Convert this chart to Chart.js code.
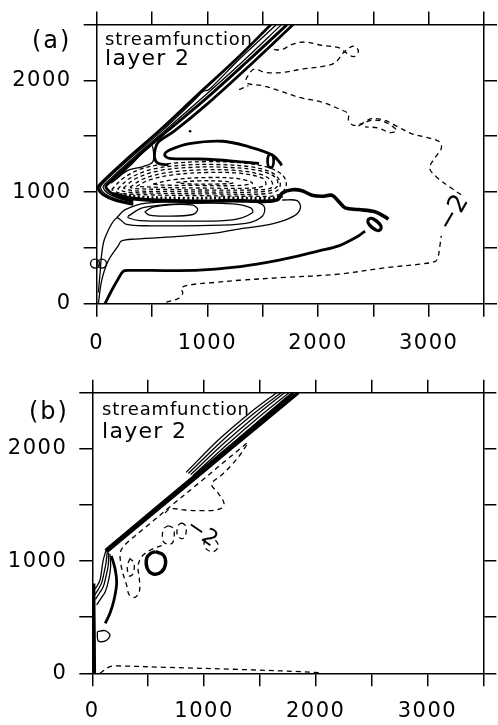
<!DOCTYPE html>
<html>
<head>
<meta charset="utf-8">
<script src="https://cdn.jsdelivr.net/npm/chart.js@4/dist/chart.umd.min.js"></script>
<style>
  html, body { margin: 0; padding: 0; background: #fff; }
  body { width: 498px; height: 725px; position: relative; overflow: hidden; }
  canvas { position: absolute; left: 0; }
  #panelA { top: 0; }
  #panelB { top: 362px; }
</style>
</head>
<body>
<canvas id="panelA" width="498" height="362"></canvas>
<canvas id="panelB" width="498" height="363"></canvas>
<script>
// axis labels
const xTickLabels = ['0', '1000', '2000', '3000'];
const yTickLabels = ['0', '1000', '2000'];

// ---- layer 2 streamfunction, panel (a) ----
const aBundle1 = [[330,890],[170,925],[60,975],[15,1030],[30,1070],[300,1320],[560,1545],[900,1860],[1250,2180],[1575,2500]];
const aBundle2 = [[330,900],[180,935],[75,985],[35,1035],[50,1072],[320,1318],[590,1548],[900,1840],[960,1900],[1010,1915],[1060,1960],[1300,2200],[1625,2500]];
const aBundle3 = [[330,910],[190,945],[95,995],[58,1040],[70,1068],[340,1315],[610,1545],[950,1840],[1320,2170],[1670,2500]];
const aBundle4 = [[330,920],[200,955],[115,1005],[82,1045],[95,1068],[360,1310],[630,1540],[980,1830],[1350,2160],[1720,2500]];
const aBundle5 = [[1775,2500],[1400,2150],[1000,1790],[700,1545],[560,1450],[530,1390],[525,1300],[560,1255],[650,1245]];
const aLens = [[130,1080],[300,1235],[490,1420],[512,1370],[506,1270],[420,1228],[281,1195],[170,1110],[130,1080]];

const aZeroUpper = [[140,985],[329,941],[629,923],[928,917],[1228,923],[1527,917],[1640,935],[1677,991],[1766,1021],[1856,1012],[1946,971],[2036,962],[2126,971],[2186,917],[2246,858],[2365,843],[2515,823],[2620,769],[2635,755]];
const aZeroLower = [[2425,651],[2365,607],[2186,518],[2007,473],[1827,429],[1527,369],[1228,325],[928,300],[629,297],[284,298],[239,289],[194,222],[135,118],[75,0]];
const aZeroLoop = [[1467,1256],[1228,1278],[928,1296],[659,1302],[614,1332],[659,1376],[838,1434],[1138,1455],[1377,1405],[1587,1331],[1662,1256],[1670,1237]];
const aBandDots = [[170,985],[400,955],[800,945],[1200,948],[1550,943],[1680,962]];

const aNeg1 = [[135,1021],[240,1124],[419,1213],[689,1258],[988,1272],[1287,1263],[1527,1228],[1677,1154],[1713,1065],[1647,976],[1407,963],[928,968],[479,975],[210,990],[135,1021]];
const aNeg1b = [[188,1028],[300,1124],[494,1203],[779,1240],[1078,1247],[1377,1228],[1572,1180],[1655,1100],[1640,1020],[1527,985],[1078,983],[554,990],[270,1000],[188,1028]];
const aNeg2 = [[240,1036],[359,1124],[569,1192],[868,1222],[1168,1222],[1467,1192],[1617,1130],[1632,1050],[1527,1006],[1078,1000],[629,1006],[329,1012],[240,1036]];
const aNeg2b = [[300,1043],[419,1117],[629,1173],[928,1198],[1228,1196],[1482,1158],[1580,1098],[1580,1040],[1467,1021],[1033,1018],[599,1024],[344,1031],[300,1043]];
const aNeg3 = [[359,1050],[479,1110],[689,1154],[988,1175],[1287,1169],[1497,1124],[1527,1065],[1407,1036],[988,1036],[569,1042],[359,1050]];
const aNeg4 = [[509,1071],[689,1110],[988,1130],[1287,1119],[1407,1080],[1287,1059],[928,1059],[629,1062],[509,1071]];
const aNeg5 = [[719,1086],[928,1101],[1168,1095],[1228,1080],[1048,1071],[808,1074],[719,1086]];

const aPos1 = [[434,823],[509,864],[689,888],[868,882],[913,843],[868,799],[629,784],[479,793],[434,823]];
const aPos2 = [[284,784],[419,860],[778,895],[1228,895],[1392,858],[1407,814],[1228,750],[778,740],[389,745],[284,770],[284,784]];
const aPos3 = [[15,100],[30,266],[45,444],[75,591],[180,768],[269,710],[479,698],[928,700],[1347,720],[1497,784],[1512,873],[1407,915],[928,912],[449,900],[254,840],[180,768]];
const aPos4 = [[1677,929],[1811,923],[1841,858],[1781,784],[1587,716],[1228,660],[1063,632],[778,605],[344,579],[224,562],[194,518],[104,384],[45,207],[15,0]];

const aMinus2Lower = [[629,15],[734,44],[778,95],[763,142],[868,172],[1063,190],[1287,210],[1700,235],[2186,265],[2635,325],[2934,355],[3060,380],[3084,414],[3099,503],[3114,607]];
const aMinus2Upper = [[3293,976],[3204,1036],[3084,1124],[3009,1213],[3054,1302],[3114,1391],[3099,1450],[2964,1494],[2844,1524],[2725,1583],[2605,1642],[2485,1657],[2395,1613],[2320,1598],[2275,1642],[2275,1701],[2186,1746],[2036,1805],[1826,1849],[1647,1909],[1497,1953],[1377,1968],[1347,1997],[1377,2057],[1422,2101],[1527,2071],[1677,2071],[1856,2101],[2066,2130],[2156,2160],[2231,2249],[2320,2308],[2365,2264],[2320,2213],[2231,2264],[2186,2293],[2036,2314],[1886,2344],[1766,2323],[1677,2278],[1602,2278],[1587,2314],[1632,2361]];
const aMinus2Inner = [[2365,1592],[2485,1642],[2605,1627],[2710,1553],[2650,1533],[2545,1574],[2425,1583]];
const aMinus2Stub = [[1287,1917],[1371,1953]];

const aRings = [[-15,359],[48,359]];
const aSpeck = [[844,1545]];

// ---- layer 2 streamfunction, panel (b) ----
const bWall = [[18,0],[16,300],[13,600],[12,800]];
const bBundle1 = [[128,1084],[700,1555],[1262,2020],[1844,2500]];
const bBundle2 = [[118,1095],[690,1570],[1250,2035],[1800,2500]];
const bBundle3 = [[900,1760],[1220,2050],[1500,2290],[1760,2500]];
const bBundle4 = [[880,1770],[1190,2060],[1470,2300],[1720,2500]];
const bBundle5 = [[860,1780],[1160,2070],[1440,2310],[1690,2500]];
const bBundle6 = [[840,1790],[1130,2080],[1410,2320],[1650,2500]];

const bWiggle1 = [[122,1093],[98,1009],[84,920],[69,831],[39,772],[15,742]];
const bWiggle2 = [[134,1084],[122,980],[104,891],[84,808],[54,748],[21,698]];
const bWiggle3 = [[146,1075],[143,965],[122,861],[98,772],[63,713],[27,659]];
const bWiggle4 = [[158,1063],[164,950],[146,831],[116,727],[78,668],[39,609]];
const bWiggle5 = [[170,1045],[203,935],[218,802],[194,653],[158,534],[116,445]];

const bZeroSmall = [[45,371],[113,380],[158,341],[122,291],[54,288],[45,371]];
const bZeroBig = [[567,1084],[636,1054],[656,980],[621,906],[546,885],[492,935],[486,1024],[522,1069],[567,1084]];

const bDashA = [[1382,2049],[1200,1900],[960,1700],[715,1500],[475,1300],[330,1180],[265,1110],[248,1054],[266,920],[307,787],[331,698],[382,677],[421,727],[421,846],[409,950],[442,1039],[531,1104],[636,1143]];
const bDashB = [[1382,2034],[1322,1945],[1247,1856],[1158,1767],[1068,1686],[1128,1603],[1179,1514],[1143,1464],[994,1449],[830,1455],[695,1464],[636,1410]];
const bLoop1 = [[680,1315],[725,1292],[734,1232],[719,1164],[680,1149],[636,1173],[627,1232],[642,1292],[680,1315]];
const bLoop2 = [[800,1342],[836,1315],[841,1271],[830,1217],[800,1200],[764,1223],[758,1271],[770,1318],[800,1342]];
const bLoop3 = [[1024,1202],[1098,1188],[1128,1128],[1083,1084],[1024,1104],[1000,1158],[1024,1202]];
const bLoop4 = [[337,1024],[313,950],[331,867],[367,891],[373,980],[337,1024]];
const bBottom = [[69,0],[158,59],[248,65],[665,53],[1262,36],[1859,15],[2038,6]];

const FONT = 'DejaVu Sans';

function pts(a) { return a.map(p => ({ x: p[0], y: p[1] })); }
function solid(a) {
    return { data: pts(a), showLine: true, pointRadius: 0, borderColor: '#000', borderWidth: 1.3, tension: 0.35, fill: false };
}
function heavy(a) {
    return Object.assign(solid(a), { borderWidth: 2.8 });
}
function dashed(a) {
    return Object.assign(solid(a), { borderDash: [5, 4], borderWidth: 1.3 });
}

function axis(pos, size, labels, pad) {
    const vertical = pos === 'left' || pos === 'right';
    return {
        type: 'linear',
        position: pos,
        min: 0,
        max: vertical ? 2500 : 3500,
        ticks: {
            stepSize: 500,
            autoSkip: false,
            maxRotation: 0,
            padding: pad,
            color: '#000',
            font: { family: FONT, size: 21 },
            callback: v => labels.includes(String(v)) ? String(v) : ''
        },
        grid: { drawOnChartArea: false, drawTicks: true, tickLength: 13, color: '#000', lineWidth: 1.5 },
        border: { display: true, color: '#000', width: 1.5 },
        afterFit: s => { if (vertical) s.width = size; else s.height = size; }
    };
}

const notesPlugin = {
    id: 'notes',
    beforeDraw(chart) {
        chart.ctx.letterSpacing = '1.5px';
    },
    afterDatasetsDraw(chart, args, opts) {
        const { ctx, scales: { x, y } } = chart;
        ctx.save();
        ctx.fillStyle = '#000';
        (opts.labels || []).forEach(l => {
            ctx.save();
            ctx.translate(x.getPixelForValue(l.x), y.getPixelForValue(l.y));
            ctx.rotate(l.rot * Math.PI / 180);
            ctx.scale(l.sx || 1, 1);
            ctx.font = l.font;
            ctx.letterSpacing = '0px';
            ctx.textAlign = 'center';
            ctx.textBaseline = 'middle';
            ctx.fillText(l.text, 0, 0);
            ctx.restore();
        });
        (opts.notes || []).forEach(n => {
            ctx.font = n.font;
            ctx.letterSpacing = n.ls;
            ctx.textAlign = 'left';
            ctx.textBaseline = 'alphabetic';
            ctx.fillText(n.text, n.px, n.py);
        });
        ctx.restore();
    }
};

function makePanel(id, datasets, frame, labels, notes) {
    new Chart(document.getElementById(id), {
        type: 'scatter',
        data: { datasets },
        options: {
            responsive: false,
            animation: false,
            events: [],
            layout: { padding: 0 },
            plugins: {
                legend: { display: false },
                tooltip: { enabled: false },
                notes: { labels, notes }
            },
            scales: {
                x: axis('bottom', frame.bottom, xTickLabels, frame.xPad),
                x2: axis('top', frame.top, [], 0),
                y: axis('left', frame.left, yTickLabels, 12),
                y2: axis('right', frame.right, [], 0)
            }
        },
        plugins: [notesPlugin]
    });
}

const ringStyle = { showLine: false, pointRadius: 4.5, pointStyle: 'circle', pointBorderColor: '#000', pointBackgroundColor: 'rgba(0,0,0,0)', pointBorderWidth: 1.4, clip: false };
const negDash = { borderDash: [4, 3] };

makePanel('panelA', [
    heavy(aBundle1), solid(aBundle2), solid(aBundle3), heavy(aBundle4), heavy(aBundle5), solid(aLens),
    Object.assign(heavy(aZeroUpper), { borderWidth: 3.6 }),
    Object.assign(dashed(aBandDots), { borderDash: [2, 2.5], borderWidth: 3 }),
    heavy(aZeroLower), heavy(aZeroLoop),
    Object.assign(dashed(aNeg1), negDash), Object.assign(dashed(aNeg1b), negDash),
    Object.assign(dashed(aNeg2), negDash), Object.assign(dashed(aNeg2b), negDash),
    Object.assign(dashed(aNeg3), negDash), Object.assign(dashed(aNeg4), negDash),
    Object.assign(dashed(aNeg5), negDash),
    solid(aPos1), solid(aPos2), solid(aPos3), solid(aPos4),
    dashed(aMinus2Lower), dashed(aMinus2Upper), dashed(aMinus2Inner), dashed(aMinus2Stub),
    Object.assign({ data: pts(aRings) }, ringStyle),
    { data: pts(aSpeck), showLine: false, pointRadius: 1.3, pointBackgroundColor: '#000', pointBorderWidth: 0 }
], { left: 96.7, right: 10, top: 21.7, bottom: 58.3, xPad: 14 }, [
    { text: '0', x: 1572, y: 1252, rot: 0, sx: 0.7, font: 'bold 21px ' + FONT },
    { text: '0', x: 2529, y: 695, rot: -50, sx: 0.75, font: 'bold 25px ' + FONT },
    { text: '\u22122', x: 3228, y: 810, rot: -60, font: '25px ' + FONT }
], [
    { text: '(a)', px: 32, py: 48, font: '24px ' + FONT, ls: '2px' },
    { text: 'streamfunction', px: 105, py: 45, font: '18px ' + FONT, ls: '0.8px' },
    { text: 'layer 2', px: 105, py: 65, font: '22px ' + FONT, ls: '1.3px' }
]);

makePanel('panelB', [
    Object.assign(heavy(bWall), { borderWidth: 3.5 }),
    Object.assign(heavy(bBundle1), { borderWidth: 3.3 }), Object.assign(heavy(bBundle2), { borderWidth: 3.3 }),
    solid(bBundle3), solid(bBundle4), solid(bBundle5), solid(bBundle6),
    solid(bWiggle1), solid(bWiggle2), solid(bWiggle3), solid(bWiggle4), heavy(bWiggle5),
    solid(bZeroSmall), Object.assign(heavy(bZeroBig), { borderWidth: 3.4 }),
    dashed(bDashA), dashed(bDashB), dashed(bLoop1), dashed(bLoop2), dashed(bLoop3), dashed(bLoop4),
    dashed(bBottom)
], { left: 92.3, right: 14.7, top: 30.7, bottom: 51.7, xPad: 13 }, [
    { text: '\u22122', x: 979, y: 1247, rot: 35, font: '22px ' + FONT }
], [
    { text: '(b)', px: 29, py: 57, font: '24px ' + FONT, ls: '2px' },
    { text: 'streamfunction', px: 102, py: 53, font: '18px ' + FONT, ls: '0.8px' },
    { text: 'layer 2', px: 102, py: 76, font: '22px ' + FONT, ls: '1.3px' }
]);
</script>
</body>
</html>
